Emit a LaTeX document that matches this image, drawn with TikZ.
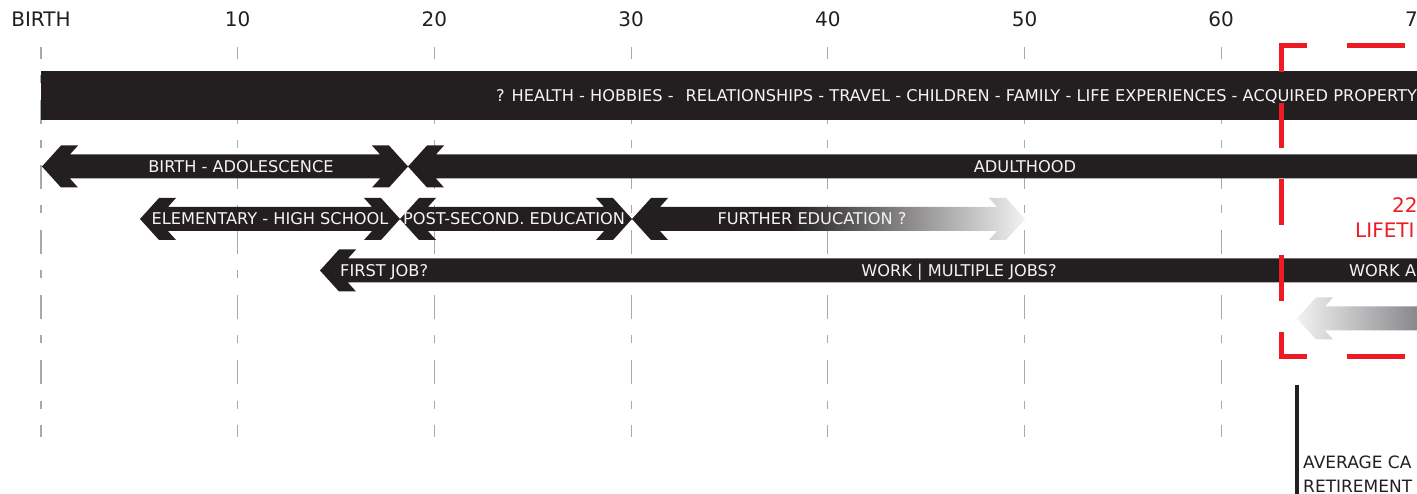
\documentclass[tikz,border=0pt]{standalone}
\usepackage{fontspec}
\setmainfont{DejaVu Sans}
\definecolor{barblack}{HTML}{231F20}
\definecolor{bartext}{HTML}{F4F4F4}
\definecolor{gridgray}{HTML}{A7A9AC}
\definecolor{redline}{HTML}{ED1C24}
\definecolor{fadelight}{HTML}{F2F2F2}
\definecolor{fadedark}{HTML}{86868A}
\pgfdeclarehorizontalshading{furtherfade}{100bp}{color(0bp)=(barblack); color(25bp)=(barblack); color(45bp)=(barblack); color(75bp)=(fadelight); color(100bp)=(fadelight)}
% double-headed arrow: left tip, right tip, centre y, style
\newcommand\tlboth[4]{%
  \path[#4] (#1,#3) -- ({#1+19},{#3-21}) -- ({#1+36},{#3-21}) -- ({#1+27.9},{#3-12})
    -- ({#2-27.9},{#3-12}) -- ({#2-36},{#3-21}) -- ({#2-19},{#3-21}) -- (#2,#3)
    -- ({#2-19},{#3+21}) -- ({#2-36},{#3+21}) -- ({#2-27.9},{#3+12})
    -- ({#1+27.9},{#3+12}) -- ({#1+36},{#3+21}) -- ({#1+19},{#3+21}) -- cycle;}
% left-pointing arrow running to the right edge: left tip, centre y, style
\newcommand\tlleft[3]{%
  \path[#3] (#1,#2) -- ({#1+19},{#2-21}) -- ({#1+36},{#2-21}) -- ({#1+27.9},{#2-12})
    -- (1420,{#2-12}) -- (1420,{#2+12})
    -- ({#1+27.9},{#2+12}) -- ({#1+36},{#2+21}) -- ({#1+19},{#2+21}) -- cycle;}
\tikzset{
  gridln/.style={draw=gridgray, line width=1.2pt, dash pattern=on 24pt off 16.5pt on 8pt off 16.5pt, dash phase=12pt},
  axlbl/.style={text=barblack, font=\fontsize{20}{23}\selectfont, inner sep=0pt, anchor=base},
  bartxt/.style={text=bartext, font=\fontsize{16.2}{19}\selectfont, inner sep=0pt, anchor=base},
  redtxt/.style={text=redline, font=\fontsize{20}{23}\selectfont, inner sep=0pt, anchor=base west},
  darktxt/.style={text=barblack, font=\fontsize{17}{20}\selectfont, inner sep=0pt, anchor=base west},
  redseg/.style={draw=redline, line width=5pt, line join=miter},
  blackfill/.style={fill=barblack},
}
\begin{document}
\begin{tikzpicture}[x=1pt, y=-1pt]
\useasboundingbox (0,0) rectangle (1417,494);
\fill[white] (0,0) rectangle (1417,494);
% grid lines
\foreach \a in {0,10,...,60} \draw[gridln] ({41+19.67*\a},47) -- ({41+19.67*\a},437);
% axis labels
\node[axlbl] (axbirth) at (41,27) {BIRTH};
\foreach \a in {10,20,...,70} \node[axlbl] (ax\a) at ({41+19.67*\a},27) {\a};
% top bar
\fill[barblack] (41,71) rectangle (1420,120);
\node[bartxt, anchor=base west] (life) at (496,102) {? HEALTH - HOBBIES -\hspace{12pt}RELATIONSHIPS - TRAVEL - CHILDREN - FAMILY - LIFE EXPERIENCES - ACQUIRED PROPERTY};
% row 2
\tlboth{42}{408}{166.5}{blackfill}
\tlleft{408}{166.5}{blackfill}
\node[bartxt] (birthad) at (241,173) {BIRTH - ADOLESCENCE};
\node[bartxt] (adult) at (1025,173) {ADULTHOOD};
% row 3
\tlboth{140}{400}{219}{blackfill}
\tlboth{400}{632}{219}{blackfill}
\tlboth{632}{1025}{219}{shade, shading=furtherfade}
\node[bartxt] (elem) at (270,225) {ELEMENTARY - HIGH SCHOOL};
\node[bartxt] (post) at (514,225) {POST-SECOND. EDUCATION};
\node[bartxt] (further) at (812,225) {FURTHER EDUCATION ?};
% row 4
\tlleft{320}{270.5}{blackfill}
\node[bartxt, anchor=base west] (firstjob) at (340,277) {FIRST JOB?};
\node[bartxt] (work) at (959,277) {WORK | MULTIPLE JOBS?};
\node[bartxt, anchor=base west] (workafter) at (1349,277) {WORK A};
% row 5
\tlleft{1297}{318.5}{left color=fadelight, right color=fadedark}
% red dashed frame
\draw[redseg] (1307,46) -- (1281,46) -- (1281,72);
\draw[redseg] (1281,103) -- (1281,148);
\draw[redseg] (1281,179) -- (1281,225);
\draw[redseg] (1281,255) -- (1281,301);
\draw[redseg] (1281,332) -- (1281,357) -- (1307,357);
\draw[redseg] (1347,46) -- (1405,46);
\draw[redseg] (1347,357) -- (1405,357);
\node[redtxt] (years) at (1392,213) {22};
\node[redtxt] (lifetime) at (1355,238) {LIFETI};
% retirement marker
\draw[barblack, line width=3.5pt] (1297,385) coordinate (rtop) -- (1297,494) coordinate (rbot);
\node[darktxt] (avg) at (1303,468) {AVERAGE CA};
\node[darktxt] (ret) at (1303,492) {RETIREMENT};
\end{tikzpicture}
\end{document}
